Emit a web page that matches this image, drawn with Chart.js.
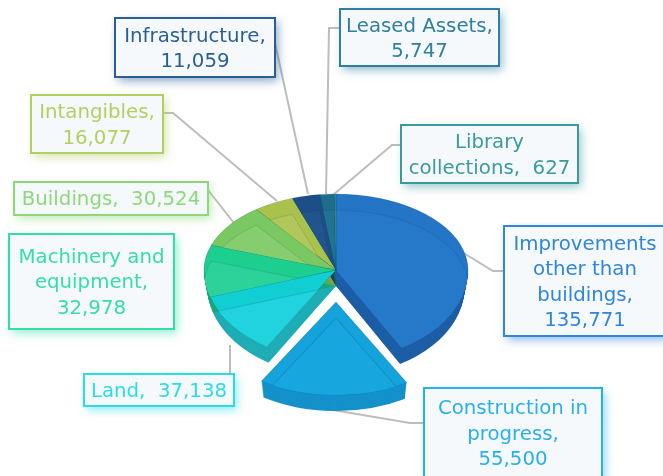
<!DOCTYPE html>
<html>
<head>
<meta charset="utf-8">
<title>Capital assets</title>
<script src="https://cdn.jsdelivr.net/npm/chart.js@4/dist/chart.umd.min.js"></script>
<style>
  html, body { margin: 0; padding: 0; background: #fff; overflow: hidden; }
  canvas { display: block; filter: blur(0.4px); }
</style>
</head>
<body>
<canvas id="myChart" width="663" height="476"></canvas>
<script>
// Data, clockwise from 12 o'clock
const categories = ['Improvements other than buildings', 'Construction in progress', 'Land',
    'Machinery and equipment', 'Buildings', 'Intangibles', 'Infrastructure', 'Leased Assets', 'Library collections'];
const values = [135771, 55500, 37138, 32978, 30524, 16077, 11059, 5747, 627];

// How each callout wraps, {v} is the formatted value
const labelLines = [
    ['Improvements', 'other than', 'buildings,', '{v}'],
    ['Construction in', 'progress,', '{v}'],
    ['Land,  {v}'],
    ['Machinery and', 'equipment,', '{v}'],
    ['Buildings,  {v}'],
    ['Intangibles,', '{v}'],
    ['Infrastructure,', '{v}'],
    ['Leased Assets,', '{v}'],
    ['Library', 'collections,  {v}']
];

// Colours
const rimColors = ['#2575c6', '#15a3dc', '#10ced2', '#1ccf8e', '#79c862', '#a9c24e', '#1d4f86', '#1e6d8a', '#2f8f8f'];
const innerColors = ['#2678c9', '#17a6de', '#20d3de', '#2dd29b', '#86cd70', '#b1c75c', '#21548c', '#217391', '#329595'];
const wallColors = ['#1d5ea6', '#1491ca', '#1fadb6', '#18a77a', '#62a850', '#8da03f', '#173f6b', '#185a72', '#257575'];
const boxColors = ['#2f86dc', '#2ab0e8', '#2adce8', '#35dda8', '#8dd97a', '#b2cf62', '#2a5f95', '#2f7f9e', '#3a9a9e'];

// Callout boxes and their leader lines, same order as categories
const boxes = [
    { x: 504, y: 226, w: 162, h: 110, leader: [[504, 271], [493, 271], [462, 252]] },
    { x: 424, y: 388, w: 178, h: 90, leader: [[424, 423], [410, 423], [333, 410]] },
    { x: 84, y: 374, w: 150, h: 32, leader: [[230, 374], [230, 345]] },
    { x: 9, y: 234, w: 165, h: 95, leader: null },
    { x: 14, y: 182, w: 194, h: 33, leader: [[208, 190], [234, 223]] },
    { x: 31, y: 95, w: 132, h: 58, leader: [[163, 113], [173, 113], [277, 201]] },
    { x: 115, y: 18, w: 160, h: 59, leader: [[275, 43], [308, 194]] },
    { x: 340, y: 9, w: 159, h: 57, leader: [[340, 28], [329, 28], [326, 194]] },
    { x: 401, y: 125, w: 177, h: 58, leader: [[401, 145], [392, 145], [333, 195]] }
];

// Fake 3D settings
const squashTop = 76 / 132;
const squashBottom = 90 / 132;
const squashExploded = 93 / 132;
const depth = 16;
const bevel = 16;
const taper = 0.0015; // the far side of the wall gets narrower
const explodedIndex = 1;
const explodedDrop = 32;
const explodedWiden = 1.08;
const machineryIndex = 3; // lies across the split between the two halves

// Draws the arc element once with other colours, then puts its options back
function drawArcWith(arc, ctx, fill, edge) {
    const saved = arc.options;
    arc.options = Object.assign({}, saved, { backgroundColor: fill, borderColor: edge, borderWidth: edge ? 1 : 0 });
    arc.draw(ctx);
    arc.options = saved;
}

// Puts the flat pie into the tilted view, upper and lower half squashed differently
function eachHalf(chart, ctx, arc, index, drop, fn) {
    const cx = arc.x;
    const cy = arc.y;
    const narrow = 1 - drop * taper;
    if (index === explodedIndex) {
        ctx.save();
        ctx.translate(cx, cy + explodedDrop + drop);
        ctx.scale(explodedWiden * narrow, squashExploded);
        ctx.translate(-cx, -cy);
        fn(squashExploded);
        ctx.restore();
        return;
    }
    [[squashTop, -1000, 1000.5], [squashBottom, -0.5, 1000]].forEach(function (half) {
        ctx.save();
        ctx.beginPath();
        ctx.rect(0, cy + drop + half[1], chart.width, half[2] - half[1]);
        ctx.clip();
        ctx.translate(cx, cy + drop);
        ctx.scale(narrow, half[0]);
        ctx.translate(-cx, -cy);
        fn(half[0]);
        ctx.restore();
    });
}

function drawSlice(chart, ctx, arc, i) {
    // side wall
    for (let d = depth; d >= 1; d--) {
        eachHalf(chart, ctx, arc, i, d, function () {
            drawArcWith(arc, ctx, wallColors[i], null);
        });
    }
}

function drawFace(chart, ctx, arc, i) {
    eachHalf(chart, ctx, arc, i, 0, function (k) {
        drawArcWith(arc, ctx, rimColors[i], 'rgba(0,50,90,0.18)');
        // lighter inner part of the bevel, clipped to the slice
        ctx.save();
        ctx.beginPath();
        ctx.moveTo(arc.x, arc.y);
        ctx.arc(arc.x, arc.y, arc.outerRadius, arc.startAngle, arc.endAngle);
        ctx.closePath();
        ctx.clip();
        ctx.translate(0, arc.y + bevel / k);
        if (i === machineryIndex) ctx.scale(1, squashTop / k); // keeps its top edge straight
        ctx.translate(0, -arc.y);
        drawArcWith(arc, ctx, innerColors[i], 'rgba(0,50,90,0.18)');
        ctx.restore();
    });
}

const fakePie3d = {
    id: 'fakePie3d',
    beforeDatasetsDraw(chart) {
        const ctx = chart.ctx;
        const arcs = chart.getDatasetMeta(0).data;

        // leader lines go behind the pie
        ctx.save();
        ctx.strokeStyle = '#bdbdbd';
        ctx.lineWidth = 2;
        boxes.forEach(function (box) {
            if (!box.leader) return;
            ctx.beginPath();
            box.leader.forEach(function (p, n) {
                if (n === 0) ctx.moveTo(p[0], p[1]);
                else ctx.lineTo(p[0], p[1]);
            });
            ctx.stroke();
        });
        ctx.restore();

        arcs.forEach(function (arc, i) {
            if (i !== explodedIndex) drawSlice(chart, ctx, arc, i);
        });
        arcs.forEach(function (arc, i) {
            if (i !== explodedIndex) drawFace(chart, ctx, arc, i);
        });
        drawSlice(chart, ctx, arcs[explodedIndex], explodedIndex);
        drawFace(chart, ctx, arcs[explodedIndex], explodedIndex);

        return false; // the default flat pie is not wanted
    },
    afterDraw(chart) {
        const ctx = chart.ctx;
        boxes.forEach(function (box, i) {
            ctx.save();
            ctx.shadowColor = boxColors[i] + '88';
            ctx.shadowBlur = 9;
            ctx.shadowOffsetX = 3;
            ctx.shadowOffsetY = 4;
            ctx.fillStyle = '#f6f9fb';
            ctx.fillRect(box.x, box.y, box.w, box.h);
            ctx.restore();

            ctx.strokeStyle = boxColors[i];
            ctx.lineWidth = 2;
            ctx.strokeRect(box.x, box.y, box.w, box.h);

            ctx.fillStyle = boxColors[i];
            ctx.font = '19px "DejaVu Sans"';
            ctx.textAlign = 'center';
            ctx.textBaseline = 'middle';
            const lines = labelLines[i];
            const lineHeight = 25.5;
            const top = box.y + box.h / 2 - lineHeight * (lines.length - 1) / 2 + 2;
            lines.forEach(function (line, n) {
                const text = line.replace('{v}', values[i].toLocaleString('en-US'));
                ctx.save();
                ctx.translate(box.x + box.w / 2, top + n * lineHeight);
                ctx.scale(1.04, 1);
                ctx.fillText(text, 0, 0);
                ctx.restore();
            });
        });
    }
};

var ctx = document.getElementById('myChart').getContext('2d');
var myChart = new Chart(ctx, {
    type: 'pie',
    data: {
        labels: categories,
        datasets: [{
            data: values,
            backgroundColor: rimColors,
            borderWidth: 0,
            radius: 132
        }]
    },
    options: {
        responsive: false,
        animation: false,
        layout: { padding: { left: 204, right: 195, top: 138, bottom: 74 } },
        plugins: {
            legend: { display: false },
            tooltip: { enabled: false }
        }
    },
    plugins: [fakePie3d]
});
</script>
</body>
</html>
